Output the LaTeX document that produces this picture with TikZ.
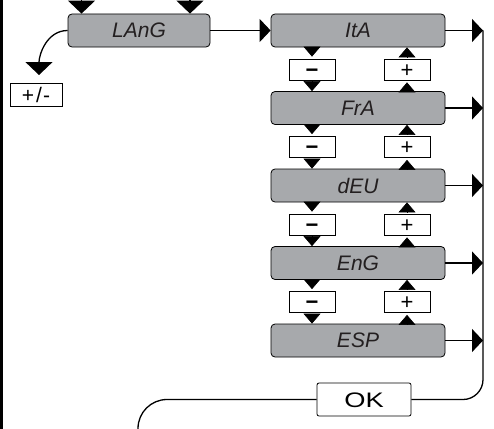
\documentclass[tikz,border=0pt]{standalone}
\usepackage{fontspec}
\setmainfont{Liberation Sans}
\usetikzlibrary{arrows.meta}
\definecolor{lcdgrey}{RGB}{167,169,172}
\definecolor{lcdtext}{RGB}{35,31,32}
\tikzset{
  lcd/.style={draw,fill=lcdgrey,rounded corners=4pt,line width=0.8pt,minimum width=174pt,minimum height=33pt,text=lcdtext,font=\itshape\fontsize{21}{21}\selectfont},
  key/.style={draw,fill=white,line width=0.8pt,minimum width=46pt,minimum height=21pt,inner sep=0pt,text height=15.5pt,text depth=0pt,font=\fontsize{22}{22}\selectfont},
  link/.style={line width=1.3pt},
  ktip/.style={-{Triangle[width=17pt,length=10pt]},line width=0.6pt},
  tokey/.style={ktip,shorten >=2pt},
  fromkey/.style={ktip,shorten <=2pt},
  rtip/.style={-{Triangle[width=23pt,length=11pt]}},
  btip/.style={-{Triangle[width=27pt,length=13pt]}}
}
\begin{document}
\begin{tikzpicture}[x=1pt,y=1pt]
\useasboundingbox (0,0) rectangle (494,-428);
\draw[line width=3pt] (1.5,5) -- (1.5,-433);

\node[lcd,minimum width=142pt] (lang) at (139,-30.5) {LAnG};
\node[lcd] (ita) at (358,-30.5) {ItA};
\node[lcd] (fra) at (358,-108) {FrA};
\node[lcd] (deu) at (358,-185.5) {dEU};
\node[lcd] (eng) at (358,-263) {EnG};
\node[lcd] (esp) at (358,-340.5) {ESP};

\node[key] (m1) at (312,-69.5) {\textbf{−}};
\node[key] (p1) at (407,-69.5) {+};
\node[key] (m2) at (312,-147) {\textbf{−}};
\node[key] (p2) at (407,-147) {+};
\node[key] (m3) at (312,-224.5) {\textbf{−}};
\node[key] (p3) at (407,-224.5) {+};
\node[key] (m4) at (312,-302) {\textbf{−}};
\node[key] (p4) at (407,-302) {+};

\node[key,minimum width=52pt,minimum height=23pt,text height=15pt,font=\fontsize{21}{21}\selectfont] (pm) at (36,-94.5) {+\kern2pt/\kern1pt-};
\node[key,minimum width=94pt,minimum height=33pt,rounded corners=2pt,text height=15pt,font=\fontsize{21}{21}\selectfont] (ok) at (364,-399.5) {\scalebox{1.3}[1]{OK}};

\coordinate (in1) at (81.5,4);
\coordinate (in2) at (190,4);
\coordinate (drop) at (39,-75);
\coordinate (bus) at (483,-30.5);
\coordinate (exit) at (138,-440);

% entries into LAnG
\draw[link,btip] (in1) -- (lang.north -| in1);
\draw[link,btip] (in2) -- (lang.north -| in2);
\draw[link,btip] (lang.west) to[out=180,in=90] (drop);

% LAnG to list
\draw[link,rtip] (lang.east) -- (ita.west);

% - and + keys
\draw[tokey] (ita.south -| m1) -- (m1.north);
\draw[fromkey] (m1.south) -- (fra.north -| m1);
\draw[fromkey] (p1.north) -- (ita.south -| p1);
\draw[tokey] (fra.north -| p1) -- (p1.south);
\draw[tokey] (fra.south -| m2) -- (m2.north);
\draw[fromkey] (m2.south) -- (deu.north -| m2);
\draw[fromkey] (p2.north) -- (fra.south -| p2);
\draw[tokey] (deu.north -| p2) -- (p2.south);
\draw[tokey] (deu.south -| m3) -- (m3.north);
\draw[fromkey] (m3.south) -- (eng.north -| m3);
\draw[fromkey] (p3.north) -- (deu.south -| p3);
\draw[tokey] (eng.north -| p3) -- (p3.south);
\draw[tokey] (eng.south -| m4) -- (m4.north);
\draw[fromkey] (m4.south) -- (esp.north -| m4);
\draw[fromkey] (p4.north) -- (eng.south -| p4);
\draw[tokey] (esp.north -| p4) -- (p4.south);

% outputs
\draw[link,rtip] (ita.east) -- (ita.east -| bus);
\draw[link,rtip] (fra.east) -- (fra.east -| bus);
\draw[link,rtip] (deu.east) -- (deu.east -| bus);
\draw[link,rtip] (eng.east) -- (eng.east -| bus);
\draw[link,rtip] (esp.east) -- (esp.east -| bus);
\draw[link,rounded corners=20pt] (bus) |- (ok.east);
\draw[link,rounded corners=29pt] (ok.west) -| (exit);
\end{tikzpicture}
\end{document}
